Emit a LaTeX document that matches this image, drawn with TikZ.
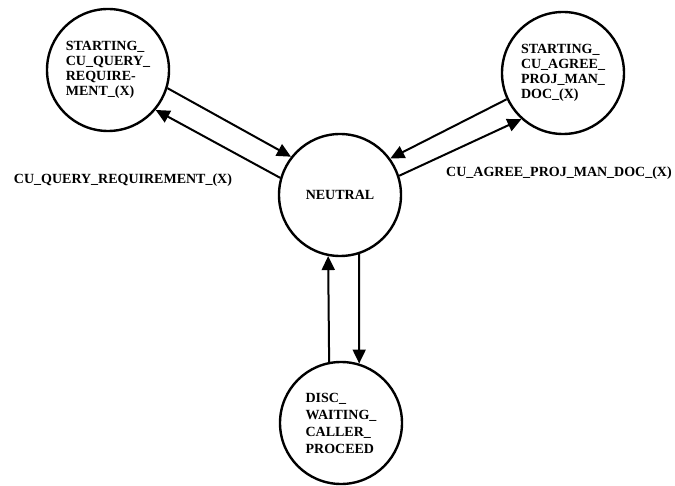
\documentclass[tikz,border=0pt]{standalone}
\usepackage{fontspec}
\setmainfont{Liberation Serif}
\usetikzlibrary{positioning,arrows.meta}

\begin{document}
\begin{tikzpicture}[
    x=1pt, y=-1pt,
    font=\fontsize{14}{15}\selectfont\bfseries,
    state_node/.style={draw, circle, line width=2.4pt, minimum size=122pt, inner sep=0pt, align=left},
    arrow/.style={-{Triangle[length=14pt,width=13pt]}, line width=2pt}
]
\useasboundingbox (0,0) rectangle (675,486);

% states
\node (query) [state_node] at (108,70)
    {STARTING\_\\CU\_QUERY\_\\REQUIRE-\\MENT\_(X)};
\node (agree) [state_node] at (563,73)
    {STARTING\_\\CU\_AGREE\_\\PROJ\_MAN\_\\DOC\_(X)};
\node (neutral) [state_node] at (340,195) {NEUTRAL};
\node (disc) [state_node, font=\fontsize{14}{17}\selectfont\bfseries] at (341,423)
    {DISC\_\\WAITING\_\\CALLER\_\\PROCEED};

% transition labels
\node (query_lbl) at (123,180) {CU\_QUERY\_REQUIREMENT\_(X)};
\node (agree_lbl) at (559,173) {CU\_AGREE\_PROJ\_MAN\_DOC\_(X)};

% transitions
\draw [arrow] (query.-17)   -- (neutral.142);
\draw [arrow] (neutral.164) -- (query.-40);
\draw [arrow] (agree.205)   -- (neutral.36);
\draw [arrow] (neutral.18)  -- (agree.228);
\draw [arrow] (disc.101)    -- (neutral.-101);
\draw [arrow] (neutral.-72) -- (disc.73);

\end{tikzpicture}
\end{document}
